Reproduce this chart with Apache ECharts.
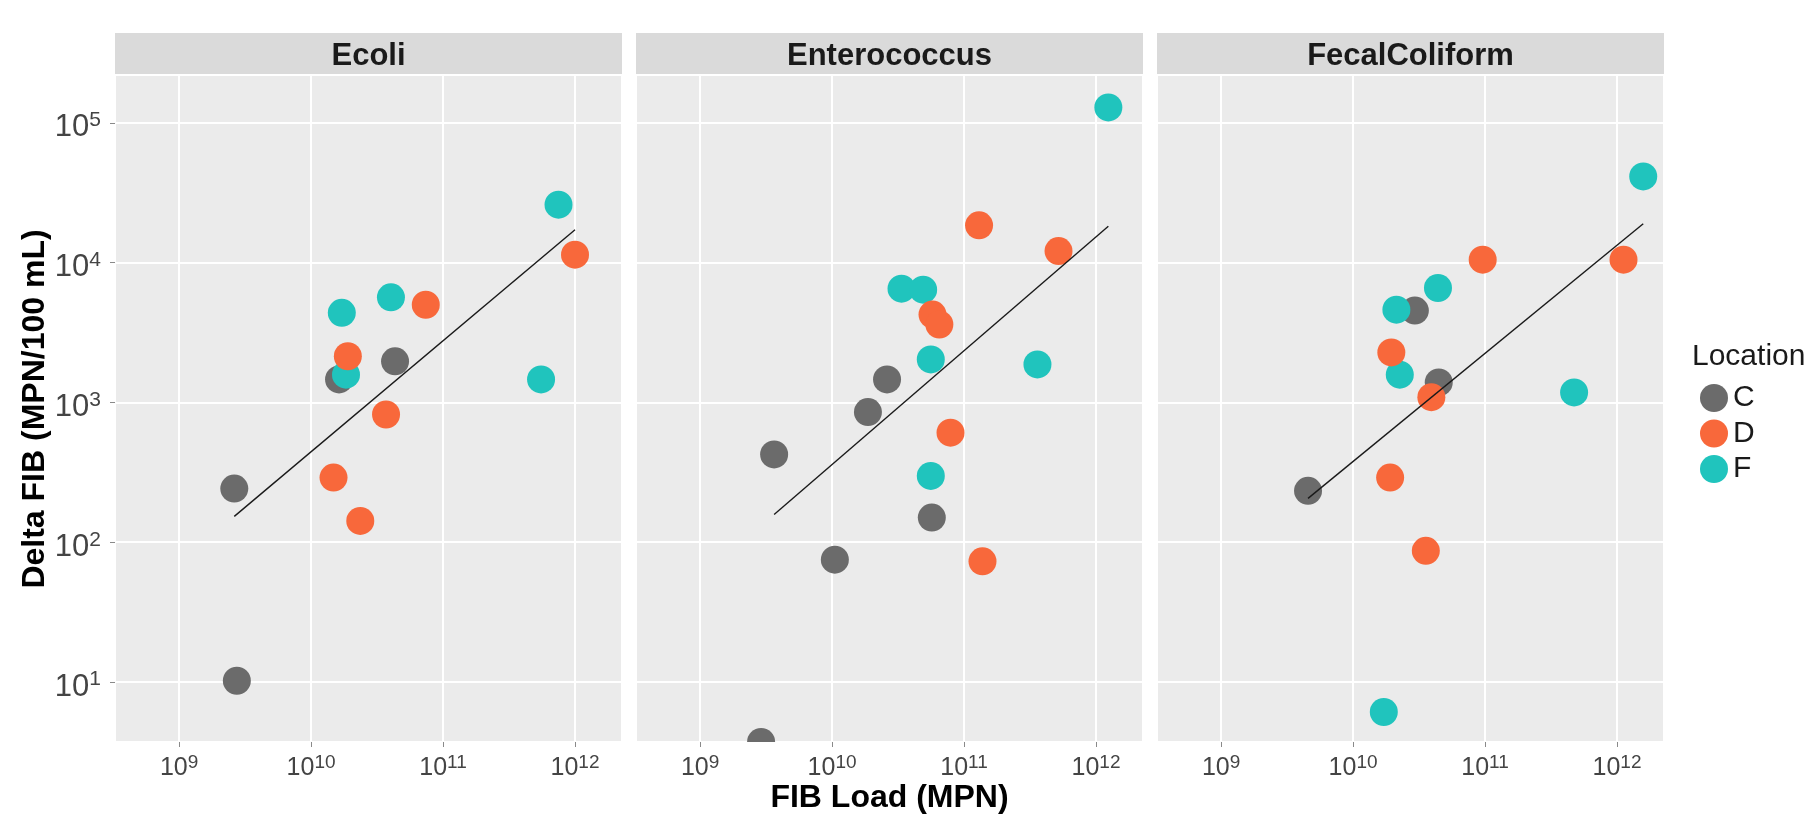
<!DOCTYPE html>
<html><head><meta charset="utf-8">
<script src="https://cdn.jsdelivr.net/npm/echarts@6/dist/echarts.min.js"></script>
<style>html,body{margin:0;padding:0;background:#fff}#c{width:1816px;height:816px}</style>
</head><body><div id="c"></div>
<script>
// ---------------- data ----------------
const panels = ['Ecoli', 'Enterococcus', 'FecalColiform'];
const locations = ['C', 'D', 'F'];
const xTickExponents = [9, 10, 11, 12];
const yTickExponents = [1, 2, 3, 4, 5];

// Ecoli
const ecoliC_x = [2.62e9, 2.74e9, 1.63e10, 4.33e10];
const ecoliC_y = [242, 10.2, 1460, 1970];
const ecoliD_x = [1.0e12, 7.4e10, 1.9e10, 3.7e10, 1.48e10, 2.36e10];
const ecoliD_y = [11400, 5000, 2140, 820, 290, 142];
const ecoliF_x = [7.5e11, 1.71e10, 4.03e10, 1.84e10, 5.53e11];
const ecoliF_y = [26000, 4380, 5650, 1580, 1460];
const ecoliFit_x = [2.62e9, 1.0e12];
const ecoliFit_y = [153, 17200];

// Enterococcus (last C point sits on the lower panel edge)
const enteroC_x = [2.61e10, 1.87e10, 3.64e9, 5.7e10, 1.05e10, 2.9e9];
const enteroC_y = [1460, 853, 425, 150, 75, 3.72];
const enteroD_x = [1.3e11, 5.2e11, 5.77e10, 6.5e10, 7.9e10, 1.38e11];
const enteroD_y = [18500, 12100, 4250, 3610, 608, 73];
const enteroF_x = [1.24e12, 3.36e10, 4.9e10, 5.6e10, 3.6e11, 5.6e10];
const enteroF_y = [129000, 6520, 6410, 2030, 1870, 298];
const enteroFit_x = [3.64e9, 1.24e12];
const enteroFit_y = [158, 18200];

// FecalColiform
const fecalC_x = [2.94e10, 4.46e10, 4.56e9];
const fecalC_y = [4540, 1390, 233];
const fecalD_x = [9.6e10, 1.12e12, 1.95e10, 3.92e10, 1.91e10, 3.56e10];
const fecalD_y = [10500, 10500, 2280, 1090, 290, 86.7];
const fecalF_x = [1.58e12, 4.4e10, 2.13e10, 2.26e10, 4.73e11, 1.71e10];
const fecalF_y = [41400, 6590, 4610, 1580, 1180, 6.1];
const fecalFit_x = [4.56e9, 1.58e12];
const fecalFit_y = [206, 19000];

const X_MIN = 3.27e8, X_MAX = 2.27e12;
const Y_MIN = 3.72, Y_MAX = 2.22e5;

// ---------------- layout & style ----------------
const FONT = '"Liberation Sans", Arial, Helvetica, sans-serif';
const COLORS = { C: '#6b6b6b', D: '#f8683b', F: '#20c4bd' };
const GRID_LEFT0 = 115, GRID_STEP = 521, GRID_W = 507, GRID_TOP = 74.5, GRID_H = 667.5;
const STRIP_TOP = 33;
const POINT_R = 14;

const panelData = {
  Ecoli: { C: [ecoliC_x, ecoliC_y], D: [ecoliD_x, ecoliD_y], F: [ecoliF_x, ecoliF_y], fit: [ecoliFit_x, ecoliFit_y] },
  Enterococcus: { C: [enteroC_x, enteroC_y], D: [enteroD_x, enteroD_y], F: [enteroF_x, enteroF_y], fit: [enteroFit_x, enteroFit_y] },
  FecalColiform: { C: [fecalC_x, fecalC_y], D: [fecalD_x, fecalD_y], F: [fecalF_x, fecalF_y], fit: [fecalFit_x, fecalFit_y] }
};
const drawOrder = ['C', 'F', 'D'];

function pairs(xy) { return xy[0].map((x, k) => [x, xy[1][k]]); }
function powLabel(allowed) {
  return function (v) {
    const e = Math.log10(v), r = Math.round(e);
    if (Math.abs(e - r) > 1e-6 || allowed.indexOf(r) < 0) return '';
    return '{b|10}{s|' + r + '}';
  };
}
const richX = {
  b: { fontSize: 25, fontFamily: FONT, color: '#444', lineHeight: 30 },
  s: { fontSize: 19, fontFamily: FONT, color: '#444', lineHeight: 19, verticalAlign: 'top' }
};
const richY = {
  b: { fontSize: 31, fontFamily: FONT, color: '#444', lineHeight: 36 },
  s: { fontSize: 21, fontFamily: FONT, color: '#444', lineHeight: 21, verticalAlign: 'top' }
};

const grids = [], xAxes = [], yAxes = [], series = [], graphics = [];
panels.forEach((p, i) => {
  const left = GRID_LEFT0 + i * GRID_STEP;
  grids.push({ left: left, top: GRID_TOP, width: GRID_W, height: GRID_H, show: true,
    backgroundColor: '#EBEBEB', borderWidth: 0, containLabel: false, outerBoundsMode: 'none' });
  xAxes.push({ type: 'log', logBase: 10, gridIndex: i, min: X_MIN, max: X_MAX,
    axisLine: { show: false },
    axisTick: { show: true, length: 5, lineStyle: { color: '#8a8a8a', width: 1 } },
    axisLabel: { margin: 11, formatter: powLabel(xTickExponents), rich: richX, showMinLabel: false, showMaxLabel: false },
    splitLine: { show: true, lineStyle: { color: '#ffffff', width: 2 } } });
  yAxes.push({ type: 'log', logBase: 10, gridIndex: i, min: Y_MIN, max: Y_MAX,
    axisLine: { show: false },
    axisTick: { show: i === 0, length: 5, lineStyle: { color: '#8a8a8a', width: 1 } },
    axisLabel: { show: i === 0, margin: 14, padding: [10, 0, 0, 0], formatter: powLabel(yTickExponents), rich: richY,
      showMinLabel: false, showMaxLabel: false },
    splitLine: { show: true, lineStyle: { color: '#ffffff', width: 2 } } });

  drawOrder.forEach(loc => {
    series.push({
      type: 'custom', name: loc, xAxisIndex: i, yAxisIndex: i, clip: true,
      itemStyle: { color: COLORS[loc] },
      encode: { x: 0, y: 1 },
      data: pairs(panelData[p][loc]),
      renderItem: function (params, api) {
        const pt = api.coord([api.value(0), api.value(1)]);
        return { type: 'circle', shape: { cx: pt[0], cy: pt[1], r: POINT_R }, style: { fill: COLORS[loc] } };
      },
      z: 2
    });
  });
  series.push({ type: 'line', name: 'fit', xAxisIndex: i, yAxisIndex: i, data: pairs(panelData[p].fit),
    symbol: 'none', showSymbol: false, silent: true, clip: true,
    lineStyle: { color: '#1a1a1a', width: 1.4 }, z: 4 });

  graphics.push({ type: 'rect', shape: { x: left, y: STRIP_TOP, width: GRID_W, height: GRID_TOP - STRIP_TOP },
    style: { fill: '#DADADA' }, silent: true });
  graphics.push({ type: 'text', x: left + GRID_W / 2, y: 56,
    style: { text: p, font: 'bold 31px ' + FONT, fill: '#1a1a1a', align: 'center', verticalAlign: 'middle',
      textAlign: 'center', textVerticalAlign: 'middle' }, silent: true });
});

// axis titles and legend title
graphics.push({ type: 'text', x: GRID_LEFT0 + (2 * GRID_STEP + GRID_W) / 2, y: 798,
  style: { text: 'FIB Load (MPN)', font: 'bold 32px ' + FONT, fill: '#000', align: 'center', verticalAlign: 'middle',
    textAlign: 'center', textVerticalAlign: 'middle' }, silent: true });
graphics.push({ type: 'text', x: 35, y: 409, rotation: Math.PI / 2,
  style: { text: 'Delta FIB (MPN/100 mL)', font: 'bold 32px ' + FONT, fill: '#000', align: 'center', verticalAlign: 'middle',
    textAlign: 'center', textVerticalAlign: 'middle' }, silent: true });
graphics.push({ type: 'text', x: 1692, y: 357,
  style: { text: 'Location', font: '30px ' + FONT, fill: '#1a1a1a', align: 'left', verticalAlign: 'middle',
    textAlign: 'left', textVerticalAlign: 'middle' }, silent: true });

const chart = echarts.init(document.getElementById('c'), null, { renderer: 'canvas' });
chart.setOption({
  animation: false,
  backgroundColor: '#ffffff',
  grid: grids, xAxis: xAxes, yAxis: yAxes, series: series,
  legend: {
    data: locations.map(n => ({ name: n, icon: 'circle', itemStyle: { color: COLORS[n] } })),
    orient: 'vertical', left: 1695, top: 378, itemWidth: 28, itemHeight: 28, itemGap: 5.5,
    selectedMode: false, textStyle: { fontSize: 30, fontFamily: FONT, color: '#1a1a1a' }
  },
  graphic: { elements: graphics }
});
</script></body></html>
